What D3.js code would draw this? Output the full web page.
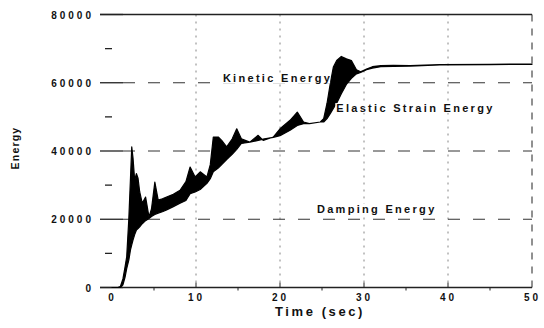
<!DOCTYPE html>
<html>
<head>
<meta charset="utf-8">
<script src="https://cdn.jsdelivr.net/npm/d3@7"></script>
<style>
  body { margin: 0; background: #fff; }
  svg { display: block; }
  text { font-family: "Liberation Sans", Arial, sans-serif; font-weight: bold; fill: #111; }
</style>
</head>
<body>
<svg id="chart" width="544" height="328"></svg>
<script>
// envelope of the oscillating energy trace
const times = [0, 0.7, 1.0, 1.3, 1.55, 1.75, 2.0, 2.2, 2.35, 2.5, 2.7, 2.9, 3.1, 3.3, 3.6, 4.0, 4.4, 4.7, 5.1, 5.5,
  6.0, 6.5, 7.3, 8.1, 8.8, 9.3, 9.9, 10.5, 11.3, 11.7, 12.06, 12.65, 13.06, 13.65, 14.3, 14.85, 15.4, 16.4, 17.4, 18.0,
  19.2, 20.0, 21.2, 22.06, 22.8, 23.5, 24.8, 25.2, 25.6, 26.0, 26.35, 26.75, 27.3, 27.9, 28.5, 29.1, 29.6, 30.3, 31.0,
  32.0, 33.5, 35.5, 39, 45, 50];
const upperEnergy = [0, 0, 300, 2500, 6000, 9000, 20000, 32000, 41200, 38000, 31400, 33400, 32000, 28000, 24700, 26500, 20700, 23000, 30900, 25600,
  26000, 26500, 27300, 28500, 31000, 35300, 32400, 33900, 32400, 36000, 44100, 44100, 43100, 41200, 43500, 46500, 43600, 42600, 44600, 43100,
  44100, 46500, 49000, 51400, 48500, 48000, 48500, 49500, 54000, 60000, 64600, 66500, 67700, 67000, 66500, 63800, 63200, 64000, 64700,
  65000, 65100, 65000, 65300, 65400, 65500];
const lowerEnergy = [0, 0, 0, 800, 3000, 5500, 8000, 11000, 12500, 13900, 15500, 16800, 17300, 17800, 18700, 19600, 20200, 20800, 21400, 21800,
  22200, 22700, 23700, 24700, 25500, 27500, 28000, 28700, 30500, 31900, 33900, 35000, 36000, 37500, 39000, 40500, 42200, 42600, 43100, 43500,
  44000, 44500, 46100, 47500, 48000, 48000, 48500, 48500, 49500, 51000, 52500, 54000, 56800, 59500, 61300, 62600, 63000, 63800, 64300,
  64700, 64800, 64900, 65200, 65300, 65400];

const xTicks = [0, 10, 20, 30, 40, 50];
const xMinorTicks = [5, 15, 25, 35, 45];
const yTicks = [0, 20000, 40000, 60000, 80000];
const yMinorTicks = [10000, 30000, 50000, 70000];

const labels = [
  { text: "Kinetic Energy", t: 13.2, e: 60100 },
  { text: "Elastic Strain Energy", t: 26.7, e: 51400 },
  { text: "Damping Energy", t: 24.4, e: 21900 }
];

const svg = d3.select("#chart");
const x = d3.scaleLinear().domain([0, 50]).range([112, 532]);
const y = d3.scaleLinear().domain([0, 80000]).range([287.5, 14.5]);
const left = 100, right = x(50);

// grid
svg.append("g").selectAll("line").data(xTicks.slice(1, -1)).join("line")
  .attr("x1", d => x(d)).attr("x2", d => x(d))
  .attr("y1", y(80000)).attr("y2", y(0))
  .attr("stroke", "#666").attr("stroke-width", 0.8).attr("stroke-dasharray", "2,5");

svg.append("line")
  .attr("x1", right).attr("x2", right).attr("y1", y(80000)).attr("y2", y(0))
  .attr("stroke", "#222").attr("stroke-width", 1).attr("stroke-dasharray", "7,7");

svg.append("g").selectAll("line").data(yTicks.slice(1, -1)).join("line")
  .attr("x1", left + 23).attr("x2", right)
  .attr("y1", d => y(d)).attr("y2", d => y(d))
  .attr("stroke", "#333").attr("stroke-width", 1).attr("stroke-dasharray", "12,13");

// frame lines (top and bottom)
svg.append("g").selectAll("line").data([0, 80000]).join("line")
  .attr("x1", left).attr("x2", right)
  .attr("y1", d => y(d)).attr("y2", d => y(d))
  .attr("stroke", "#222").attr("stroke-width", 1.3);

// y ticks
svg.append("g").selectAll("line").data(yTicks).join("line")
  .attr("x1", left).attr("x2", left + 23)
  .attr("y1", d => y(d)).attr("y2", d => y(d))
  .attr("stroke", "#222").attr("stroke-width", 1.3);
svg.append("g").selectAll("line").data(yMinorTicks).join("line")
  .attr("x1", left + 5).attr("x2", left + 12)
  .attr("y1", d => y(d)).attr("y2", d => y(d))
  .attr("stroke", "#222").attr("stroke-width", 1.3);

// x ticks
svg.append("g").selectAll("line").data(xTicks.slice(1, -1)).join("line")
  .attr("x1", d => x(d)).attr("x2", d => x(d))
  .attr("y1", y(0) - 5).attr("y2", y(0))
  .attr("stroke", "#222");
svg.append("g").selectAll("line").data(xMinorTicks).join("line")
  .attr("x1", d => x(d)).attr("x2", d => x(d))
  .attr("y1", y(0)).attr("y2", y(0) + 3)
  .attr("stroke", "#222");

// energy band
const band = d3.area()
  .x((d, i) => x(times[i]))
  .y0((d, i) => y(lowerEnergy[i]))
  .y1((d, i) => y(upperEnergy[i]));
svg.append("path").datum(times).attr("d", band)
  .attr("fill", "#000").attr("stroke", "#000").attr("stroke-width", 1.2).attr("stroke-linejoin", "round");

// axes labels
const yAxis = svg.append("g").attr("transform", `translate(${left},0)`)
  .call(d3.axisLeft(y).tickValues(yTicks).tickSize(0).tickPadding(6).tickFormat(d3.format("d")));
yAxis.select(".domain").remove();
yAxis.selectAll("text").attr("font-size", 10).attr("dy", "0.35em")
  .style("font-family", "'Liberation Sans', Arial, sans-serif").style("font-weight", "bold")
  .style("letter-spacing", "3px").attr("fill", "#111");

const xAxis = svg.append("g").attr("transform", `translate(0,${y(0)})`)
  .call(d3.axisBottom(x).tickValues(xTicks).tickSize(0).tickPadding(6));
xAxis.select(".domain").remove();
xAxis.selectAll("text").attr("font-size", 10).attr("dy", "0.71em")
  .style("font-family", "'Liberation Sans', Arial, sans-serif").style("font-weight", "bold")
  .style("letter-spacing", "3px").attr("fill", "#111");

svg.append("text").attr("x", 320).attr("y", 316).attr("text-anchor", "middle")
  .attr("font-size", 13).style("letter-spacing", "2.6px").text("Time (sec)");

svg.append("text").attr("transform", "translate(19,148) rotate(-90)").attr("text-anchor", "middle")
  .attr("font-size", 10.5).style("letter-spacing", "1.2px").text("Energy");

// curve annotations on white patches
labels.forEach(l => {
  const tx = svg.append("text").attr("x", x(l.t)).attr("y", y(l.e))
    .attr("font-size", 11).style("letter-spacing", "2.3px").text(l.text);
  const bb = tx.node().getBBox();
  svg.insert("rect", () => tx.node())
    .attr("x", bb.x - 1).attr("y", bb.y + 1).attr("width", bb.width - 1).attr("height", bb.height - 2)
    .attr("fill", "#fff");
});
</script>
</body>
</html>
